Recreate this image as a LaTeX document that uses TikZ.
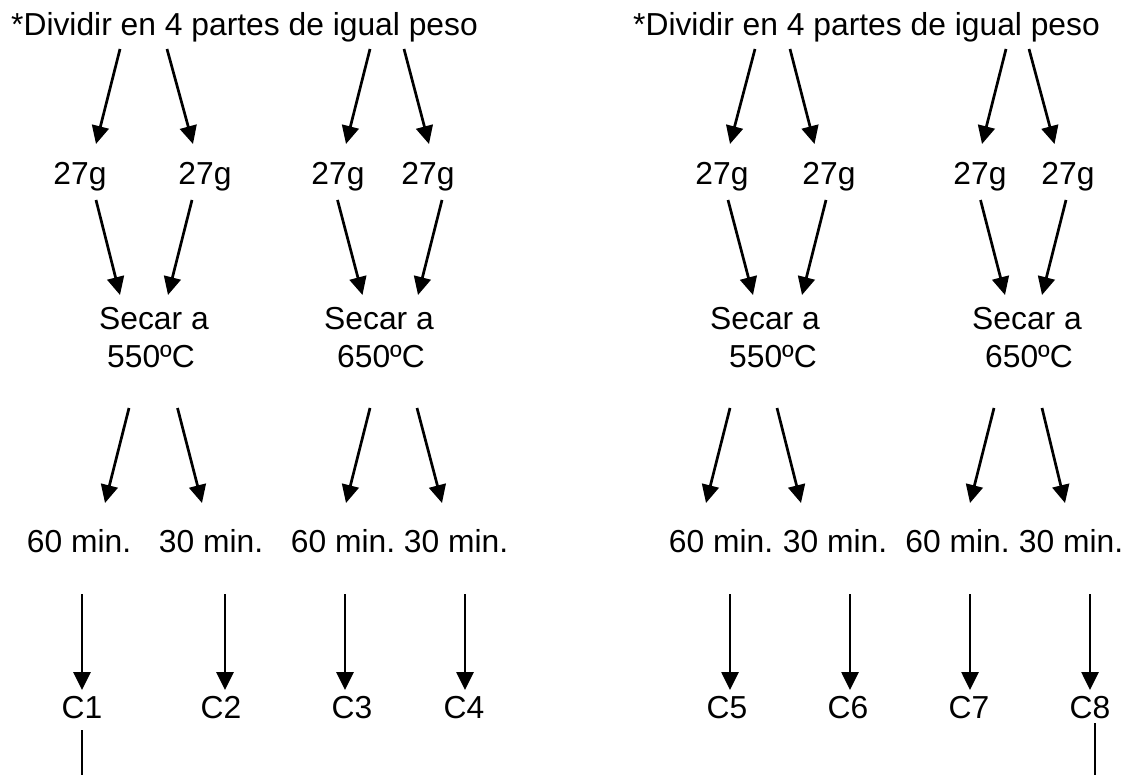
\documentclass[tikz,border=0pt]{standalone}
\usepackage{fontspec}
\setmainfont{Liberation Sans}
\usetikzlibrary{arrows.meta}
\begin{document}
\begin{tikzpicture}[x=1pt,y=-1pt,
  lbl/.style={anchor=base, inner sep=0pt, font=\fontsize{31.8}{36.6}\selectfont},
  ttl/.style={lbl, anchor=base west},
  arr/.style={line width=2.7pt, -{Triangle[length=18pt,width=17pt]}},
  tailline/.style={line width=1.7pt}]
\useasboundingbox (0,0) rectangle (1126,775);
% titles
\node[ttl] (tL) at (11,36) {*Dividir en 4 partes de igual peso};
\node[ttl] (tR) at (633,36) {*Dividir en 4 partes de igual peso};
% 27g row
\foreach \n/\x in {g1/80, g2/205, g3/338, g4/428, g5/722, g6/829, g7/980, g8/1068}
  \node[lbl] (\n) at (\x,185) {27g};
% Secar rows
\node[lbl] (s1) at (154,330) {Secar a};
\node[lbl] (s1t) at (151,367) {550ºC};
\node[lbl] (s2) at (379,330) {Secar a};
\node[lbl] (s2t) at (381,367) {650ºC};
\node[lbl] (s3) at (765,330) {Secar a};
\node[lbl] (s3t) at (773,367) {550ºC};
\node[lbl] (s4) at (1027,330) {Secar a};
\node[lbl] (s4t) at (1029,367) {650ºC};
% minutes
\node[lbl] (m1) at (79,552) {60 min.};
\node[lbl] (m2) at (211,552) {30 min.};
\node[lbl] (m3) at (343,552) {60 min.};
\node[lbl] (m4) at (456,552) {30 min.};
\node[lbl] (m5) at (721,552) {60 min.};
\node[lbl] (m6) at (835,552) {30 min.};
\node[lbl] (m7) at (957.5,552) {60 min.};
\node[lbl] (m8) at (1071,552) {30 min.};
% C labels
\foreach \n/\x/\t in {c1/82/C1, c2/221/C2, c3/352/C3, c4/464/C4, c5/727/C5, c6/848/C6, c7/969/C7, c8/1090/C8}
  \node[lbl] (\n) at (\x,718) {\t};
% arrows title -> 27g
\draw[arr] (120,49) coordinate (a1s) -- (96,144) coordinate (a1e);
\draw[arr] (167,49) coordinate (a2s) -- (193,144) coordinate (a2e);
\draw[arr] (370,49) coordinate (a3s) -- (346,144) coordinate (a3e);
\draw[arr] (404,49) coordinate (a4s) -- (429,144) coordinate (a4e);
\draw[arr] (755,49) coordinate (a5s) -- (730,144) coordinate (a5e);
\draw[arr] (790,49) coordinate (a6s) -- (814.5,144) coordinate (a6e);
\draw[arr] (1006,49) coordinate (a7s) -- (982,144) coordinate (a7e);
\draw[arr] (1029,49) coordinate (a8s) -- (1054.5,144) coordinate (a8e);
% arrows 27g -> Secar
\draw[arr] (96,200) coordinate (b1s) -- (120,295) coordinate (b1e);
\draw[arr] (192,200) coordinate (b2s) -- (168,295) coordinate (b2e);
\draw[arr] (337.5,200) coordinate (b3s) -- (362.5,295) coordinate (b3e);
\draw[arr] (442,200) coordinate (b4s) -- (418,295) coordinate (b4e);
\draw[arr] (728,200) coordinate (b5s) -- (753,295) coordinate (b5e);
\draw[arr] (826,200) coordinate (b6s) -- (802,295) coordinate (b6e);
\draw[arr] (980.5,200) coordinate (b7s) -- (1005,295) coordinate (b7e);
\draw[arr] (1066,200) coordinate (b8s) -- (1042,295) coordinate (b8e);
% arrows Secar -> minutes
\draw[arr] (129,408) coordinate (d1s) -- (105,503) coordinate (d1e);
\draw[arr] (177.5,408) coordinate (d2s) -- (202,503) coordinate (d2e);
\draw[arr] (370,408) coordinate (d3s) -- (346,503) coordinate (d3e);
\draw[arr] (417,408) coordinate (d4s) -- (442,503) coordinate (d4e);
\draw[arr] (730,408) coordinate (d5s) -- (706,503) coordinate (d5e);
\draw[arr] (777,408) coordinate (d6s) -- (801,503) coordinate (d6e);
\draw[arr] (994,408) coordinate (d7s) -- (970,503) coordinate (d7e);
\draw[arr] (1042,408) coordinate (d8s) -- (1065,503) coordinate (d8e);
% vertical arrows minutes -> C
\foreach \i/\x in {1/82, 2/225, 3/345, 4/465, 5/730, 6/850, 7/970, 8/1090}
  \draw[arr] (\x,594) coordinate (v\i s) -- (\x,690) coordinate (v\i e);
% tails
\coordinate (e1) at (82,775);
\coordinate (e8) at (1095,775);
\draw[tailline] (82,730) -- (e1);
\draw[tailline] (1095,723) -- (e8);
\end{tikzpicture}
\end{document}
